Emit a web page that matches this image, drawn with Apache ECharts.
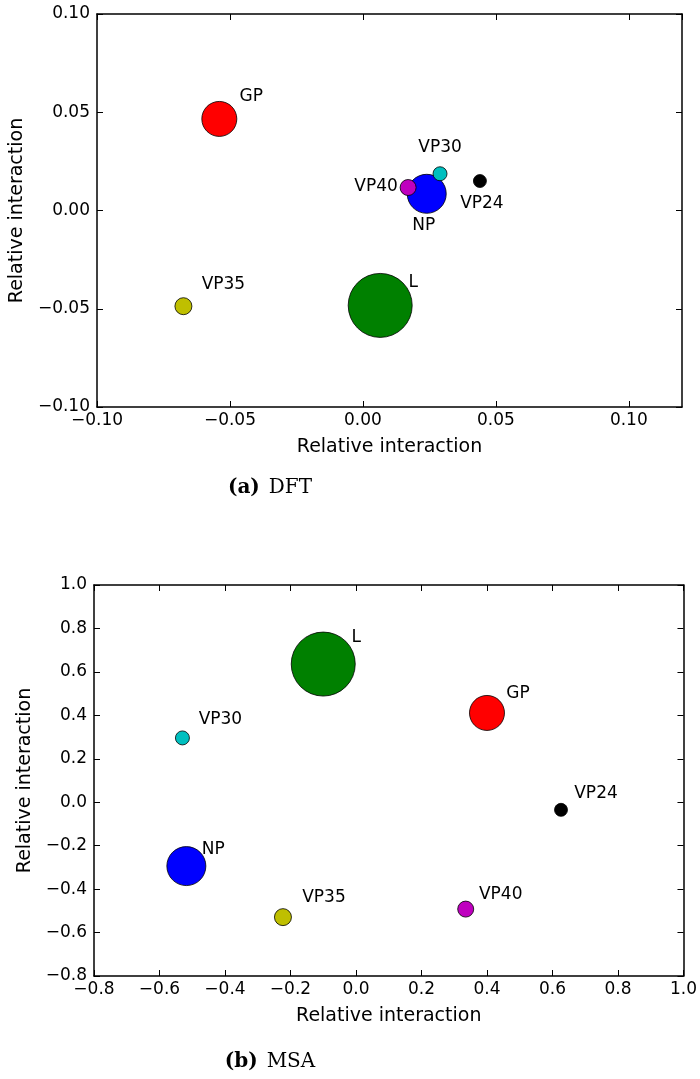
<!DOCTYPE html>
<html><head><meta charset="utf-8">
<script src="https://cdn.jsdelivr.net/npm/echarts@6/dist/echarts.min.js"></script>
<style>html,body{margin:0;padding:0;background:#fff}#c{width:700px;height:1079px}</style>
</head><body><div id="c"></div>
<script>
// ---- data ----
const proteins = ['NP', 'VP35', 'VP40', 'GP', 'VP30', 'VP24', 'L'];
const markerArea = [1521, 289, 256, 1225, 196, 169, 4096];   // relative bubble area
const dftX = [0.024, -0.0675, 0.017, -0.054, 0.029, 0.044, 0.0065];
const dftY = [0.0085, -0.0487, 0.0117, 0.0466, 0.0187, 0.015, -0.0483];
const msaX = [-0.518, -0.223, 0.335, 0.400, -0.530, 0.626, -0.100];
const msaY = [-0.294, -0.529, -0.492, 0.411, 0.296, -0.035, 0.636];
const dftTickValues = [-0.10, -0.05, 0.00, 0.05, 0.10];
const dftTickLabels = ['\u22120.10', '\u22120.05', '0.00', '0.05', '0.10'];
const msaTickValues = [-0.8, -0.6, -0.4, -0.2, 0.0, 0.2, 0.4, 0.6, 0.8, 1.0];
const msaTickLabels = ['\u22120.8', '\u22120.6', '\u22120.4', '\u22120.2', '0.0', '0.2', '0.4', '0.6', '0.8', '1.0'];
const axisTitle = 'Relative interaction';
const captions = [['(a)', 'DFT'], ['(b)', 'MSA']];

// ---- styles ----
const colors = ['#0000ff', '#bfbf00', '#bf00bf', '#ff0000', '#00bfbf', '#000000', '#008000'];
const dftLabelOffsets = [[-3, 32], [40, -22], [-32, -1], [32, -22], [0, -26], [2, 23], [33, -23]];
const msaLabelOffsets = [[27, -17], [41, -20], [35, -15], [31, -19], [38, -18], [35, -16], [33, -26]];
const FONT = 'DejaVu Sans';

function lookup(values, labels) {
  return function (v) {
    for (let i = 0; i < values.length; i++) if (Math.abs(values[i] - v) < 1e-9) return labels[i];
    return '';
  };
}

function makeAxes(dim, gridIndex, min, max, interval, fmt, nameGap, hideMax) {
  const common = {
    type: 'value', gridIndex, min, max, interval, scale: true,
    splitLine: { show: false },
    axisLine: { show: true, onZero: false, lineStyle: { color: '#000', width: 1.5 } },
    axisTick: { show: true, inside: true, length: 6, lineStyle: { color: '#000', width: 1 } }
  };
  const main = Object.assign({}, common, {
    position: dim === 'x' ? 'bottom' : 'left',
    name: axisTitle, nameLocation: 'middle', nameGap,
    nameRotate: dim === 'y' ? 90 : 0,
    nameTextStyle: { fontFamily: FONT, fontSize: 19, color: '#000' },
    axisLabel: { show: true, formatter: fmt, fontFamily: FONT, fontSize: 17, color: '#000',
                 margin: dim === 'x' ? 5 : 7, showMaxLabel: !hideMax, showMinLabel: true }
  });
  const opp = Object.assign({}, common, {
    position: dim === 'x' ? 'top' : 'right',
    axisLabel: { show: false }
  });
  return [main, opp];
}

function makeSeries(xs, ys, offsets, xi, yi) {
  return {
    type: 'scatter', xAxisIndex: xi, yAxisIndex: yi,
    symbol: 'circle',
    symbolSize: (val, p) => Math.sqrt(markerArea[p.dataIndex]),
    data: proteins.map((name, i) => ({
      name, value: [xs[i], ys[i]],
      itemStyle: { color: colors[i], borderColor: '#000', borderWidth: 0.8, opacity: 1 },
      label: { offset: offsets[i] }
    })),
    label: { show: true, position: 'inside', formatter: '{b}', color: '#000',
             fontFamily: FONT, fontSize: 17, textBorderWidth: 0 },
    emphasis: { disabled: true },
    silent: true
  };
}

const [x0, x0t] = makeAxes('x', 0, -0.10, 0.12, 0.05, lookup(dftTickValues, dftTickLabels), 31, true);
const [y0, y0r] = makeAxes('y', 0, -0.10, 0.10, 0.05, lookup(dftTickValues, dftTickLabels), 64, false);
const [x1, x1t] = makeAxes('x', 1, -0.8, 1.0, 0.2, lookup(msaTickValues, msaTickLabels), 31, false);
const [y1, y1r] = makeAxes('y', 1, -0.8, 1.0, 0.2, lookup(msaTickValues, msaTickLabels), 57, false);

function caption(i, cx, cy) {
  return {
    type: 'text', x: cx, y: cy, silent: true,
    style: {
      text: '{b|' + captions[i][0] + '}{r|' + captions[i][1] + '}',
      align: 'center', verticalAlign: 'middle', textAlign: 'center', textVerticalAlign: 'middle',
      rich: {
        b: { fontFamily: 'DejaVu Serif', fontWeight: 'bold', fontSize: 20, fill: '#000', color: '#000', padding: [0, 9, 0, 0] },
        r: { fontFamily: 'DejaVu Serif', fontSize: 20, fill: '#000', color: '#000' }
      }
    }
  };
}

const chart = echarts.init(document.getElementById('c'), null, { renderer: 'canvas' });
chart.setOption({
  animation: false,
  backgroundColor: '#fff',
  grid: [
    { left: 95, top: 14, width: 587, height: 393, containLabel: false },
    { left: 94, top: 585, width: 590, height: 391, containLabel: false }
  ],
  xAxis: [x0, x0t, x1, x1t],
  yAxis: [y0, y0r, y1, y1r],
  series: [
    makeSeries(dftX, dftY, dftLabelOffsets, 0, 0),
    makeSeries(msaX, msaY, msaLabelOffsets, 2, 2)
  ],
  graphic: [caption(0, 270, 488), caption(1, 270, 1062)]
});
</script></body></html>
